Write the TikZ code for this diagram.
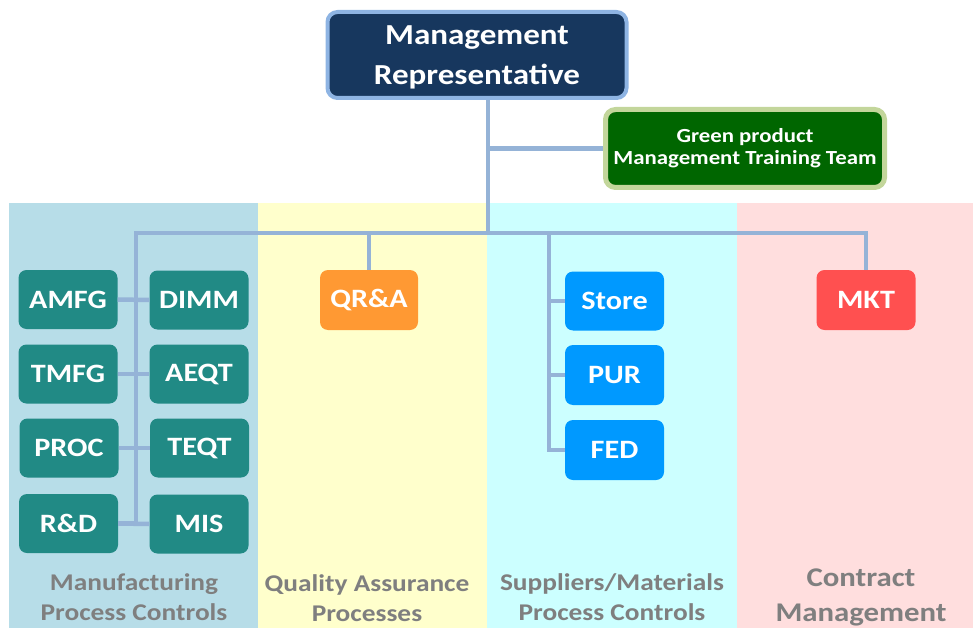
\documentclass[tikz,border=0pt]{standalone}
\usepackage{fontspec}
\setmainfont{Carlito}[FakeStretch=1.14]
\definecolor{bandA}{RGB}{183,221,232}
\definecolor{bandB}{RGB}{255,255,204}
\definecolor{bandC}{RGB}{204,255,255}
\definecolor{bandD}{RGB}{255,222,222}
\definecolor{navy}{RGB}{23,55,94}
\definecolor{navyedge}{RGB}{142,180,227}
\definecolor{gfill}{RGB}{0,102,0}
\definecolor{gedge}{RGB}{195,214,155}
\definecolor{teal}{RGB}{33,138,133}
\definecolor{orng}{RGB}{255,153,51}
\definecolor{sky}{RGB}{0,153,255}
\definecolor{redbox}{RGB}{255,80,80}
\definecolor{conncol}{RGB}{149,179,215}
\definecolor{labgray}{RGB}{127,127,127}
\begin{document}
\begin{tikzpicture}[x=1pt,y=-1pt,
  conn/.style={draw=conncol,line width=4.5pt},
  unit/.style={rounded corners=8pt,minimum width=99pt,minimum height=59pt,inner sep=0pt,
    text=white,font=\fontsize{26.5}{30}\selectfont\bfseries},
  mfg/.style={unit,fill=teal},
  topbox/.style={draw=navyedge,line width=4pt,fill=navy,rounded corners=10pt,
    minimum width=299pt,minimum height=86pt,inner sep=0pt,align=center,text=white,
    text height=58.6pt,text depth=0pt,
    font=\fontsize{29}{40}\selectfont\bfseries},
  greenbox/.style={draw=gedge,line width=5pt,fill=gfill,rounded corners=10pt,
    minimum width=279pt,minimum height=78pt,inner sep=0pt,align=center,text=white,
    text height=31.6pt,text depth=0pt,
    font=\fontsize{20}{21.6}\selectfont\bfseries},
  lab/.style={text=labgray,align=center,anchor=base,inner sep=0pt,
    font=\fontsize{24}{30.5}\selectfont\bfseries},
  labbig/.style={text=labgray,align=center,anchor=base,inner sep=0pt,
    font=\fontsize{27}{35}\selectfont\bfseries}]
\useasboundingbox (0,0) rectangle (973,628);
% bands
\fill[bandA] (9,203) rectangle (258,628);
\fill[bandB] (258,203) rectangle (487,628);
\fill[bandC] (487,203) rectangle (737,628);
\fill[bandD] (737,203) rectangle (973,628);
% boxes
\node[topbox] (mr) at (477,55) {Management\\Representative};
\node[greenbox] (gp) at (745,148.5) {Green product\\Management Training Team};
\node[mfg] (amfg) at (68,299.5) {AMFG};
\node[mfg] (dimm) at (199,300) {DIMM};
\node[mfg] (tmfg) at (68,374) {TMFG};
\node[mfg] (aeqt) at (199,374) {AEQT};
\node[mfg] (proc) at (69,448) {PROC};
\node[mfg] (teqt) at (199.5,448) {TEQT};
\node[mfg] (rd) at (68.5,523.5) {R\&D};
\node[mfg] (mis) at (199,524) {MIS};
\node[unit,fill=orng,minimum width=98pt,minimum height=60pt] (qra) at (369,300) {QR\&A};
\node[unit,fill=sky] (store) at (614.5,301) {Store};
\node[unit,fill=sky,minimum height=60pt] (pur) at (614.5,375) {PUR};
\node[unit,fill=sky,minimum height=60pt] (fed) at (614.5,450) {FED};
\node[unit,fill=redbox,minimum height=60pt] (mkt) at (866,300) {MKT};
% junctions
\coordinate (hub) at (488,233);
\coordinate (spineL) at (136,233);
\coordinate (spineR) at (549,233);
% connectors
\draw[conn] (mr.south -| hub) -- (hub);
\draw[conn] (gp.west -| hub) -- (gp.west);
\draw[conn] (mkt.north) |- (spineL) |- (rd.east);
\draw[conn] (rd.east) -- (mis.west);
\draw[conn] (amfg.east) -- (dimm.west);
\draw[conn] (tmfg.east) -- (aeqt.west);
\draw[conn] (proc.east) -- (teqt.west);
\draw[conn] (qra.north) -- (qra.north |- hub);
\draw[conn] (spineR) |- (fed.west);
\draw[conn] (store.west -| spineR) -- (store.west);
\draw[conn] (pur.west -| spineR) -- (pur.west);
% labels
\node[lab] (l1) at (134,620.7) {Manufacturing\\Process Controls};
\node[lab] (l2) at (367,621.5) {Quality Assurance\\Processes};
\node[lab] (l3) at (612,620.7) {Suppliers/Materials\\Process Controls};
\node[labbig] (l4) at (861,621.5) {Contract\\Management};
\end{tikzpicture}
\end{document}
